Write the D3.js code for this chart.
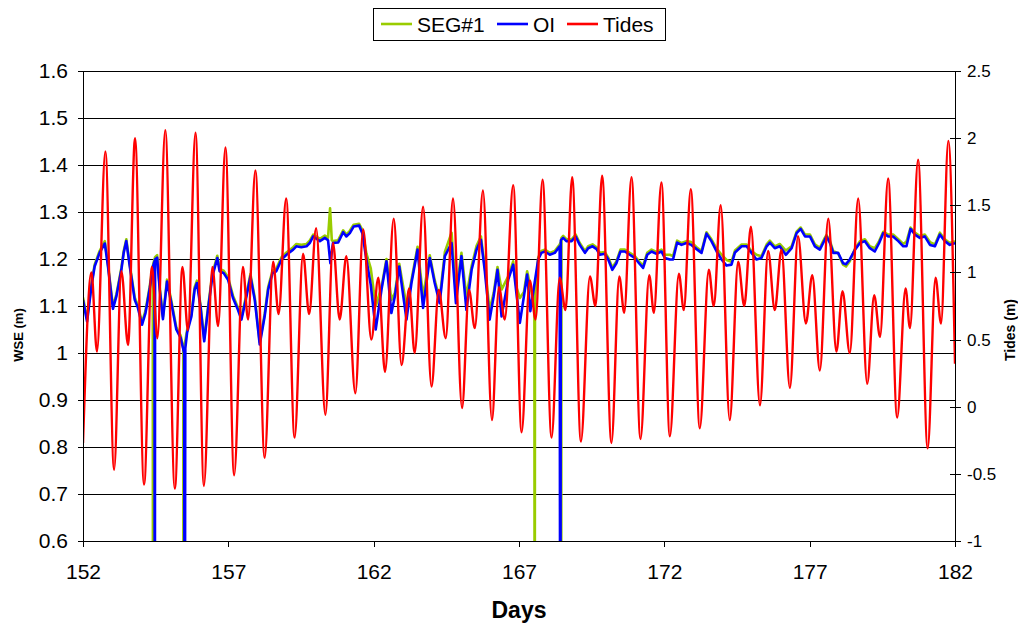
<!DOCTYPE html>
<html lang="en">
<head>
<meta charset="utf-8">
<script src="https://cdn.jsdelivr.net/npm/d3@7/dist/d3.min.js"></script>
<style>
body {
  margin: 0;
  background: #fff;
  font-family: "Liberation Sans", Arial, sans-serif;
}
.grid line { stroke: #000; shape-rendering: crispEdges; }
.axis path, .axis line { stroke: #000; shape-rendering: crispEdges; }
.axis text { fill: #000; font-family: "Liberation Sans", Arial, sans-serif; }
.title { font-weight: bold; fill: #000; }
</style>
</head>
<body>
<div id="chart"></div>
<script>

// x ticks / labels
var dayTicks = [152, 157, 162, 167, 172, 177, 182];
var wseTicks = [0.6, 0.7, 0.8, 0.9, 1.0, 1.1, 1.2, 1.3, 1.4, 1.5, 1.6];
var wseLabels = ["0.6", "0.7", "0.8", "0.9", "1", "1.1", "1.2", "1.3", "1.4", "1.5", "1.6"];
var tideTicks = [-1, -0.5, 0, 0.5, 1, 1.5, 2, 2.5];
var tideLabels = ["-1", "-0.5", "0", "0.5", "1", "1.5", "2", "2.5"];
var seriesNames = ["SEG#1", "OI", "Tides"];

// OI water surface elevation [day, m]; 0 = gauge dropout
var oiSeries = [
  [152.00,1.113],[152.14,1.067],[152.29,1.142],[152.40,1.184],[152.57,1.213],[152.75,1.233],
  [152.86,1.184],[153.03,1.094],[153.15,1.121],[153.32,1.177],[153.40,1.213],[153.49,1.238],
  [153.61,1.184],[153.78,1.113],[153.89,1.096],[154.03,1.060],[154.15,1.085],[154.29,1.135],
  [154.41,1.184],[154.46,1.195],[154.47,0],[154.48,1.199],[154.55,1.203],[154.64,1.135],
  [154.75,1.072],[154.89,1.152],[155.04,1.106],[155.21,1.050],[155.36,1.032],[155.48,1.000],
  [155.50,0],[155.52,1.010],[155.58,1.043],[155.73,1.078],[155.84,1.135],[155.92,1.149],
  [156.04,1.099],[156.17,1.025],[156.30,1.092],[156.45,1.163],[156.62,1.202],[156.70,1.174],
  [156.84,1.170],[156.99,1.156],[157.16,1.117],[157.33,1.092],[157.45,1.071],[157.60,1.113],
  [157.76,1.163],[157.91,1.113],[158.08,1.018],[158.25,1.078],[158.37,1.135],[158.52,1.170],
  [158.65,1.174],[158.83,1.199],[159.00,1.209],[159.23,1.220],[159.34,1.227],[159.51,1.225],
  [159.69,1.227],[159.80,1.234],[159.92,1.248],[160.15,1.238],[160.32,1.245],[160.43,1.240],
  [160.51,1.191],[160.60,1.234],[160.78,1.235],[160.95,1.257],[161.06,1.248],[161.18,1.255],
  [161.31,1.269],[161.50,1.271],[161.61,1.255],[161.75,1.199],[161.90,1.145],[162.07,1.050],
  [162.27,1.135],[162.44,1.195],[162.61,1.085],[162.73,1.121],[162.88,1.184],[163.13,1.071],
  [163.30,1.149],[163.51,1.220],[163.70,1.096],[163.93,1.202],[164.10,1.149],[164.27,1.106],
  [164.45,1.206],[164.68,1.234],[164.83,1.106],[165.02,1.206],[165.19,1.092],[165.37,1.177],
  [165.54,1.220],[165.69,1.241],[165.82,1.177],[165.99,1.071],[166.13,1.121],[166.26,1.177],
  [166.40,1.078],[166.63,1.156],[166.80,1.188],[166.91,1.128],[167.03,1.064],[167.17,1.121],
  [167.28,1.167],[167.39,1.089],[167.54,1.150],[167.66,1.199],[167.77,1.213],[167.89,1.216],
  [168.06,1.209],[168.23,1.213],[168.40,1.227],[168.42,0],[168.44,1.240],[168.52,1.245],
  [168.63,1.238],[168.81,1.238],[168.95,1.248],[169.09,1.230],[169.27,1.213],[169.38,1.223],
  [169.53,1.227],[169.67,1.221],[169.78,1.209],[169.95,1.211],[170.07,1.199],[170.21,1.177],
  [170.35,1.191],[170.49,1.216],[170.64,1.216],[170.81,1.209],[170.99,1.202],[171.13,1.191],
  [171.27,1.181],[171.41,1.209],[171.56,1.216],[171.73,1.211],[171.90,1.216],[172.02,1.202],
  [172.19,1.199],[172.30,1.199],[172.44,1.235],[172.59,1.230],[172.76,1.234],[172.93,1.230],
  [173.11,1.221],[173.28,1.213],[173.45,1.254],[173.62,1.238],[173.80,1.216],[173.97,1.199],
  [174.14,1.186],[174.31,1.188],[174.43,1.214],[174.66,1.227],[174.83,1.227],[175.00,1.213],
  [175.17,1.199],[175.34,1.202],[175.52,1.227],[175.63,1.235],[175.80,1.223],[175.97,1.227],
  [176.18,1.209],[176.38,1.223],[176.55,1.255],[176.69,1.264],[176.84,1.248],[177.01,1.248],
  [177.18,1.227],[177.35,1.220],[177.52,1.241],[177.58,1.248],[177.70,1.234],[177.81,1.213],
  [177.98,1.213],[178.15,1.191],[178.25,1.189],[178.38,1.199],[178.56,1.220],[178.73,1.234],
  [178.90,1.238],[179.07,1.223],[179.24,1.216],[179.39,1.234],[179.53,1.255],[179.70,1.248],
  [179.87,1.248],[180.05,1.238],[180.22,1.227],[180.33,1.227],[180.47,1.264],[180.62,1.252],
  [180.79,1.245],[180.96,1.248],[181.14,1.230],[181.31,1.227],[181.48,1.252],[181.65,1.238],
  [181.82,1.230],[182.00,1.234]
];

// SEG#1 model [day, m]
var segSeries = [
  [152.00,1.118],[152.14,1.072],[152.29,1.146],[152.40,1.188],[152.57,1.217],[152.75,1.238],
  [152.86,1.188],[153.03,1.099],[153.15,1.125],[153.32,1.181],[153.40,1.217],[153.49,1.242],
  [153.61,1.188],[153.78,1.118],[153.89,1.101],[154.03,1.065],[154.15,1.090],[154.29,1.140],
  [154.40,1.186],[154.41,0],[154.42,1.190],[154.48,1.204],[154.55,1.208],[154.64,1.140],
  [154.75,1.077],[154.89,1.156],[155.04,1.111],[155.21,1.055],[155.36,1.037],[155.45,1.010],
  [155.46,0],[155.47,1.008],[155.58,1.048],[155.73,1.083],[155.84,1.140],[155.92,1.154],
  [156.04,1.104],[156.17,1.030],[156.30,1.097],[156.45,1.168],[156.62,1.207],[156.70,1.179],
  [156.84,1.175],[156.99,1.161],[157.16,1.122],[157.33,1.097],[157.45,1.076],[157.60,1.118],
  [157.76,1.168],[157.91,1.118],[158.08,1.023],[158.25,1.083],[158.37,1.140],[158.52,1.175],
  [158.65,1.179],[158.83,1.204],[159.00,1.214],[159.23,1.225],[159.34,1.232],[159.51,1.230],
  [159.69,1.232],[159.80,1.239],[159.92,1.252],[160.15,1.243],[160.32,1.250],[160.43,1.245],
  [160.50,1.308],[160.56,1.240],[160.60,1.238],[160.78,1.240],[160.95,1.261],[161.06,1.252],
  [161.18,1.260],[161.31,1.273],[161.50,1.275],[161.61,1.262],[161.75,1.212],[161.90,1.180],
  [162.07,1.100],[162.27,1.140],[162.44,1.200],[162.61,1.113],[162.73,1.128],[162.88,1.190],
  [163.13,1.100],[163.30,1.155],[163.51,1.226],[163.70,1.120],[163.93,1.208],[164.10,1.155],
  [164.27,1.115],[164.45,1.215],[164.68,1.256],[164.83,1.128],[165.02,1.213],[165.19,1.120],
  [165.37,1.185],[165.54,1.228],[165.69,1.248],[165.82,1.185],[165.99,1.092],[166.13,1.128],
  [166.26,1.183],[166.40,1.135],[166.63,1.163],[166.80,1.195],[166.91,1.140],[167.03,1.117],
  [167.17,1.130],[167.28,1.174],[167.39,1.142],[167.53,1.100],[167.54,0],[167.55,1.120],
  [167.66,1.203],[167.77,1.217],[167.89,1.220],[168.06,1.213],[168.23,1.217],[168.40,1.231],
  [168.44,1.236],[168.45,0],[168.46,1.245],[168.52,1.249],[168.63,1.242],[168.81,1.242],
  [168.95,1.252],[169.09,1.234],[169.27,1.217],[169.38,1.227],[169.53,1.231],[169.67,1.225],
  [169.78,1.213],[169.95,1.215],[170.07,1.203],[170.21,1.182],[170.35,1.195],[170.49,1.220],
  [170.64,1.220],[170.81,1.213],[170.99,1.206],[171.13,1.195],[171.27,1.186],[171.41,1.213],
  [171.56,1.220],[171.73,1.215],[171.90,1.220],[172.02,1.209],[172.19,1.209],[172.30,1.206],
  [172.44,1.239],[172.59,1.234],[172.76,1.238],[172.93,1.236],[173.11,1.225],[173.28,1.217],
  [173.45,1.257],[173.62,1.242],[173.80,1.222],[173.97,1.209],[174.14,1.198],[174.31,1.194],
  [174.43,1.218],[174.66,1.231],[174.83,1.231],[175.00,1.217],[175.17,1.209],[175.34,1.206],
  [175.52,1.231],[175.63,1.239],[175.80,1.227],[175.97,1.232],[176.18,1.218],[176.38,1.227],
  [176.55,1.258],[176.69,1.267],[176.84,1.252],[177.01,1.252],[177.18,1.231],[177.35,1.224],
  [177.52,1.245],[177.58,1.251],[177.70,1.238],[177.81,1.217],[177.98,1.212],[178.15,1.188],
  [178.25,1.184],[178.38,1.195],[178.56,1.222],[178.73,1.238],[178.90,1.242],[179.07,1.227],
  [179.24,1.223],[179.39,1.238],[179.53,1.258],[179.70,1.252],[179.87,1.252],[180.05,1.242],
  [180.22,1.232],[180.33,1.237],[180.47,1.267],[180.62,1.256],[180.79,1.249],[180.96,1.252],
  [181.14,1.236],[181.31,1.231],[181.48,1.256],[181.65,1.242],[181.82,1.234],[182.00,1.238]
];

// Tide highs and lows [day, m]
var tideSeries = [
  [152.00,-0.27],[152.29,1.00],[152.48,0.41],[152.77,1.90],[153.07,-0.47],[153.32,1.01],
  [153.55,0.46],[153.79,2.00],[154.10,-0.58],[154.37,1.04],[154.56,0.51],[154.83,2.06],
  [155.16,-0.61],[155.42,1.04],[155.61,0.57],[155.87,2.04],[156.16,-0.59],[156.45,1.04],
  [156.65,0.60],[156.90,1.93],[157.20,-0.51],[157.50,1.04],[157.68,0.65],[157.93,1.76],
  [158.25,-0.38],[158.54,1.08],[158.73,0.69],[158.99,1.55],[159.28,-0.23],[159.57,1.14],
  [159.78,0.69],[160.02,1.33],[160.34,-0.06],[160.60,1.22],[160.83,0.65],[161.06,1.12],
  [161.37,0.10],[161.64,1.32],[161.92,0.50],[162.16,0.96],[162.39,0.26],[162.69,1.40],
  [162.96,0.31],[163.22,0.88],[163.41,0.40],[163.70,1.49],[163.99,0.15],[164.24,0.87],
  [164.48,0.51],[164.73,1.55],[165.04,-0.01],[165.28,0.87],[165.48,0.585],[165.76,1.61],
  [166.07,-0.10],[166.31,0.89],[166.51,0.65],[166.80,1.65],[167.09,-0.19],[167.37,0.94],
  [167.57,0.65],[167.81,1.69],[168.12,-0.23],[168.40,0.96],[168.60,0.72],[168.83,1.71],
  [169.13,-0.26],[169.44,0.97],[169.63,0.75],[169.86,1.72],[170.18,-0.27],[170.45,0.97],
  [170.62,0.70],[170.87,1.71],[171.18,-0.24],[171.48,0.98],[171.64,0.70],[171.90,1.67],
  [172.19,-0.22],[172.50,0.99],[172.67,0.72],[172.91,1.62],[173.22,-0.16],[173.53,1.02],
  [173.70,0.75],[173.94,1.50],[174.25,-0.10],[174.54,1.08],[174.75,0.75],[174.98,1.34],
  [175.29,0.01],[175.57,1.16],[175.80,0.72],[176.03,1.17],[176.32,0.14],[176.60,1.27],
  [176.87,0.62],[177.09,0.98],[177.35,0.27],[177.64,1.40],[177.92,0.41],[178.13,0.86],
  [178.38,0.40],[178.67,1.55],[178.98,0.17],[179.22,0.83],[179.42,0.52],[179.70,1.70],
  [180.01,-0.08],[180.30,0.88],[180.45,0.585],[180.73,1.84],[181.06,-0.31],[181.33,0.96],
  [181.52,0.62],[181.77,1.98],[182.00,0.32]
];

var W = 1018, H = 625;
var margin = {top: 71, right: 63, bottom: 84, left: 83},
    width = W - margin.left - margin.right,
    height = H - margin.top - margin.bottom;

var colors = {"SEG#1": "#99cc00", "OI": "#0000ff", "Tides": "#ff0000"};

var svg = d3.select("#chart").append("svg")
    .attr("width", W)
    .attr("height", H);

var g = svg.append("g")
    .attr("transform", "translate(" + margin.left + "," + margin.top + ")");

var x = d3.scaleLinear().domain([152, 182]).range([0, width]);
var yL = d3.scaleLinear().domain([0.6, 1.6]).range([height, 0]);
var yR = d3.scaleLinear().domain([-1, 2.5]).range([height, 0]);

// horizontal grid
g.append("g")
    .attr("class", "grid")
  .selectAll("line")
    .data(wseTicks)
  .enter().append("line")
    .attr("x1", 0)
    .attr("x2", width)
    .attr("y1", function(d) { return yL(d); })
    .attr("y2", function(d) { return yL(d); });

g.append("clipPath")
    .attr("id", "plot-clip")
  .append("rect")
    .attr("width", width)
    .attr("height", height);

var lineL = d3.line()
    .x(function(d) { return x(d[0]); })
    .y(function(d) { return yL(d[1]); });

var lineR = d3.line()
    .curve(d3.curveMonotoneX)
    .x(function(d) { return x(d[0]); })
    .y(function(d) { return yR(d[1]); });

var lines = g.append("g").attr("clip-path", "url(#plot-clip)");

lines.append("path")
    .datum(segSeries)
    .attr("fill", "none")
    .attr("stroke", colors["SEG#1"])
    .attr("stroke-width", 2.6)
    .attr("stroke-linejoin", "round")
    .attr("d", lineL);

lines.append("path")
    .datum(oiSeries)
    .attr("fill", "none")
    .attr("stroke", colors["OI"])
    .attr("stroke-width", 2.6)
    .attr("stroke-linejoin", "round")
    .attr("d", lineL);

lines.append("path")
    .datum(tideSeries)
    .attr("fill", "none")
    .attr("stroke", colors["Tides"])
    .attr("stroke-width", 2.4)
    .attr("d", lineR);

// left axis
var axL = g.append("g")
    .attr("class", "axis")
    .call(d3.axisLeft(yL)
      .tickValues(wseTicks)
      .tickSize(5)
      .tickPadding(10)
      .tickFormat(function(d, i) { return wseLabels[i]; }));
axL.select(".domain").attr("d", "M0.5," + height + "V0");
axL.selectAll("text").style("font-size", "21px");

// right axis, cross ticks
var axR = g.append("g")
    .attr("class", "axis")
    .attr("transform", "translate(" + width + ",0)")
    .call(d3.axisRight(yR)
      .tickValues(tideTicks)
      .tickSize(5)
      .tickPadding(7)
      .tickFormat(function(d, i) { return tideLabels[i]; }));
axR.select(".domain").attr("d", "M0.5," + height + "V0");
axR.selectAll(".tick line").attr("x1", -5).attr("x2", 6);
axR.selectAll("text").style("font-size", "17px");

// bottom axis
var axB = g.append("g")
    .attr("class", "axis")
    .attr("transform", "translate(0," + height + ")")
    .call(d3.axisBottom(x)
      .tickValues(dayTicks)
      .tickSize(6)
      .tickPadding(17)
      .tickFormat(d3.format("d")));
axB.select(".domain").attr("d", "M0,0.5H" + width);
axB.selectAll("text").style("font-size", "21px");

// axis titles
svg.append("text")
    .attr("class", "title")
    .attr("x", margin.left + width / 2)
    .attr("y", 618)
    .attr("text-anchor", "middle")
    .style("font-size", "23px")
    .text("Days");

svg.append("text")
    .attr("class", "title")
    .attr("transform", "translate(23,335) rotate(-90)")
    .attr("text-anchor", "middle")
    .style("font-size", "13px")
    .text("WSE (m)");

svg.append("text")
    .attr("class", "title")
    .attr("transform", "translate(1015,330) rotate(-90)")
    .attr("text-anchor", "middle")
    .style("font-size", "14px")
    .text("Tides (m)");

// legend
var legend = svg.append("g").attr("transform", "translate(373,8)");
legend.append("rect")
    .attr("x", 0.5)
    .attr("y", 0.5)
    .attr("width", 292)
    .attr("height", 32)
    .attr("fill", "#fff")
    .attr("stroke", "#000");

var legendX = [8, 124, 194];
var item = legend.selectAll(".item")
    .data(seriesNames)
  .enter().append("g")
    .attr("class", "item")
    .attr("transform", function(d, i) { return "translate(" + legendX[i] + ",16)"; });

item.append("line")
    .attr("x1", 0)
    .attr("x2", 31)
    .attr("stroke", function(d) { return colors[d]; })
    .attr("stroke-width", 2.6);

item.append("text")
    .attr("x", 36)
    .attr("dy", "0.36em")
    .style("font-size", "21px")
    .text(function(d) { return d; });

</script>
</body>
</html>
